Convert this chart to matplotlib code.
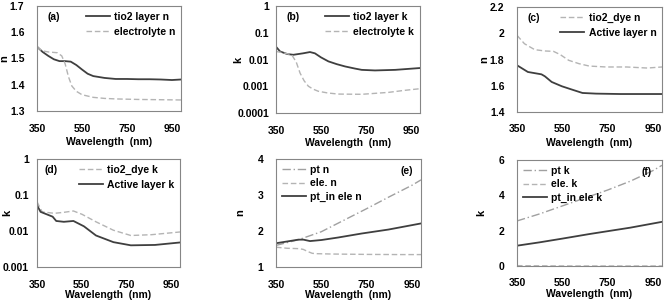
import numpy as np
import matplotlib
matplotlib.use("Agg")
import matplotlib.pyplot as plt

plt.rcParams['font.family'] = ['Liberation Sans', 'DejaVu Sans']
plt.rcParams['font.weight'] = 'bold'
plt.rcParams['axes.labelweight'] = 'bold'
plt.rcParams['font.size'] = 7.5

# ---- data ----
# (a) refractive index n
wl_a_tio2 = [350, 375, 400, 425, 450, 475, 500, 525, 550, 575, 600, 650, 700, 750, 800, 850, 900, 950, 990]
n_tio2_layer = [1.545, 1.525, 1.51, 1.497, 1.49, 1.49, 1.488, 1.475, 1.458, 1.442, 1.433, 1.426,
                1.422, 1.422, 1.421, 1.421, 1.42, 1.418, 1.42]
wl_a_ele = [350, 370, 400, 440, 460, 475, 490, 505, 525, 550, 600, 650, 700, 800, 900, 990]
n_electrolyte = [1.545, 1.53, 1.525, 1.522, 1.51, 1.48, 1.43, 1.395, 1.375, 1.362, 1.352, 1.348,
                 1.346, 1.344, 1.343, 1.342]

# (b) extinction k
wl_b_tio2 = [350, 368, 400, 427, 470, 501, 523, 550, 583, 620, 657, 700, 731, 790, 880, 990]
k_tio2_layer = [0.03, 0.02, 0.016, 0.015, 0.017, 0.019, 0.017, 0.012, 0.0085, 0.0067, 0.0055,
                0.0046, 0.0041, 0.0039, 0.0041, 0.0048]
wl_b_ele = [350, 380, 420, 440, 457, 475, 494, 515, 538, 580, 627, 731, 850, 920, 990]
k_electrolyte = [0.02, 0.018, 0.015, 0.008, 0.0031, 0.0016, 0.001, 0.00078, 0.00065, 0.00056,
                 0.00051, 0.0005, 0.00059, 0.0007, 0.00081]

# (c) n of dye-loaded layers
wl_c = [350, 383, 428, 473, 511, 541, 578, 624, 669, 744, 834, 925, 990]
n_tio2_dye = [1.984, 1.92, 1.875, 1.865, 1.862, 1.837, 1.794, 1.768, 1.75, 1.743, 1.743, 1.735, 1.743]
wl_c_act = [350, 398, 458, 473, 503, 548, 594, 639, 699, 805, 900, 990]
n_active = [1.756, 1.705, 1.687, 1.672, 1.629, 1.596, 1.57, 1.545, 1.54, 1.537, 1.537, 1.537]

# (d) k of dye-loaded layers
wl_d = [350, 373, 428, 470, 513, 552, 614, 692, 770, 863, 990]
k_tio2_dye = [0.065, 0.034, 0.031, 0.033, 0.036, 0.029, 0.018, 0.0105, 0.0075, 0.0079, 0.0094]
wl_d_act = [350, 366, 420, 436, 470, 513, 560, 614, 692, 770, 878, 990]
k_active = [0.052, 0.034, 0.025, 0.019, 0.018, 0.019, 0.0135, 0.0075, 0.0049, 0.004, 0.0041, 0.0048]

# (e) n of Pt electrode
wl_e = [350, 450, 550, 650, 750, 850, 950, 990]
n_pt = [1.6, 1.76, 1.98, 2.3, 2.62, 2.95, 3.27, 3.42]
wl_e_ele = [350, 400, 450, 470, 490, 510, 530, 600, 750, 900, 990]
n_ele = [1.55, 1.52, 1.51, 1.49, 1.43, 1.38, 1.37, 1.36, 1.35, 1.345, 1.345]
wl_e_ptin = [350, 400, 449, 471, 500, 551, 625, 728, 846, 990]
n_pt_in_ele = [1.66, 1.71, 1.76, 1.76, 1.72, 1.75, 1.82, 1.93, 2.04, 2.21]

# (f) k of Pt electrode
wl_f = [350, 450, 550, 650, 750, 850, 950, 990]
k_pt = [2.55, 2.95, 3.4, 3.85, 4.3, 4.8, 5.4, 5.7]
k_ele = [0.02, 0.01, 0.003, 0.001, 0.001, 0.001, 0.002, 0.002]
wl_f_ptin = [350, 450, 550, 670, 750, 850, 990]
k_pt_in_ele = [1.15, 1.34, 1.55, 1.81, 1.97, 2.17, 2.5]

xticks = [350, 550, 750, 950]

dark = '#3f3f3f'
light = '#b4b4b4'
mid = '#a0a0a0'

fig = plt.figure(figsize=(6.64, 3.0), dpi=100)


def box(x0, x1, y0, y1):
    return [x0 / 664, 1 - y1 / 300, (x1 - x0) / 664, (y1 - y0) / 300]


def style(ax, ylabel, ylab_x, xlab_y):
    ax.set_xlim(350, 990)
    ax.set_xticks(xticks)
    ax.tick_params(axis='x', length=0, pad=9)
    ax.tick_params(axis='y', length=0, pad=9)
    for s in ax.spines.values():
        s.set_color('#868686')
        s.set_linewidth(0.8)
    ax.set_xlabel('Wavelength  (nm)')
    ax.set_ylabel(ylabel, fontsize=8)
    ax.yaxis.set_label_coords(ylab_x, 0.5)
    ax.xaxis.set_label_coords(0.5, xlab_y)


leg_kw = dict(frameon=False, handlelength=2.3, borderaxespad=0.15, handletextpad=0.4)

# (a)
ax = fig.add_axes(box(37, 181, 6, 111))
ax.plot(wl_a_tio2, n_tio2_layer, color=dark, lw=1.3, label='tio2 layer n')
ax.plot(wl_a_ele, n_electrolyte, color=light, lw=1.0, ls=(0, (4, 2)), label='electrolyte n')
ax.set_ylim(1.3, 1.7)
ax.set_yticks([1.3, 1.4, 1.5, 1.6, 1.7])
ax.text(0.07, 0.87, '(a)', transform=ax.transAxes)
ax.legend(loc='upper right', labelspacing=0.5, **leg_kw)
style(ax, 'n', -0.195, -0.245)

# (b)
ax = fig.add_axes(box(276, 420, 6, 113))
ax.semilogy(wl_b_tio2, k_tio2_layer, color=dark, lw=1.3, label='tio2 layer k')
ax.semilogy(wl_b_ele, k_electrolyte, color=light, lw=1.0, ls=(0, (4, 2)), label='electrolyte k')
ax.set_ylim(0.0001, 1)
ax.set_yticks([0.0001, 0.001, 0.01, 0.1, 1])
ax.set_yticklabels(['0.0001', '0.001', '0.01', '0.1', '1'])
ax.minorticks_off()
ax.text(0.07, 0.87, '(b)', transform=ax.transAxes)
ax.legend(loc='upper right', labelspacing=0.5, **leg_kw)
style(ax, 'k', -0.225, -0.235)
ax.tick_params(axis='y', pad=5)

# (c)
ax = fig.add_axes(box(517, 662, 7, 112))
ax.plot(wl_c, n_tio2_dye, color=light, lw=1.0, ls=(0, (4, 2)), label='tio2_dye n')
ax.plot(wl_c_act, n_active, color=dark, lw=1.3, label='Active layer n')
ax.set_ylim(1.4, 2.2)
ax.set_yticks([1.4, 1.6, 1.8, 2.0, 2.2])
ax.set_yticklabels(['1.4', '1.6', '1.8', '2', '2.2'])
ax.text(0.07, 0.87, '(c)', transform=ax.transAxes)
ax.legend(loc='upper right', labelspacing=0.5, **leg_kw)
style(ax, 'n', -0.19, -0.245)

# (d)
ax = fig.add_axes(box(37, 180, 159, 267))
ax.semilogy(wl_d, k_tio2_dye, color=light, lw=1.0, ls=(0, (4, 2)), label='tio2_dye k')
ax.semilogy(wl_d_act, k_active, color=dark, lw=1.3, label='Active layer k')
ax.set_ylim(0.001, 1)
ax.set_yticks([0.001, 0.01, 0.1, 1])
ax.set_yticklabels(['0.001', '0.01', '0.1', '1'])
ax.minorticks_off()
ax.text(0.05, 0.87, '(d)', transform=ax.transAxes)
ax.legend(loc='upper right', labelspacing=0.5, **leg_kw)
style(ax, 'k', -0.17, -0.21)
ax.tick_params(axis='y', pad=6)

# (e)
ax = fig.add_axes(box(276, 421, 159, 267))
ax.plot(wl_e, n_pt, color=mid, lw=1.0, ls=(0, (6, 2, 1, 2)), label='pt n')
ax.plot(wl_e_ele, n_ele, color=light, lw=1.0, ls=(0, (4, 2)), label='ele. n')
ax.plot(wl_e_ptin, n_pt_in_ele, color=dark, lw=1.3, label='pt_in ele n')
ax.set_ylim(1, 4)
ax.set_yticks([1, 2, 3, 4])
ax.text(0.86, 0.86, '(e)', transform=ax.transAxes)
ax.legend(loc='upper left', labelspacing=0.35, **leg_kw)
style(ax, 'n', -0.21, -0.21)

# (f)
ax = fig.add_axes(box(517, 662, 160, 266))
ax.plot(wl_f, k_pt, color=mid, lw=1.0, ls=(0, (6, 2, 1, 2)), label='pt k')
ax.plot(wl_f, k_ele, color=light, lw=1.0, ls=(0, (4, 2)), label='ele. k')
ax.plot(wl_f_ptin, k_pt_in_ele, color=dark, lw=1.3, label='pt_in ele k')
ax.set_ylim(0, 6)
ax.set_yticks([0, 2, 4, 6])
ax.text(0.86, 0.86, '(f)', transform=ax.transAxes)
ax.legend(loc='upper left', labelspacing=0.35, **leg_kw)
style(ax, 'k', -0.21, -0.22)

fig.savefig('out.png', dpi=100)
